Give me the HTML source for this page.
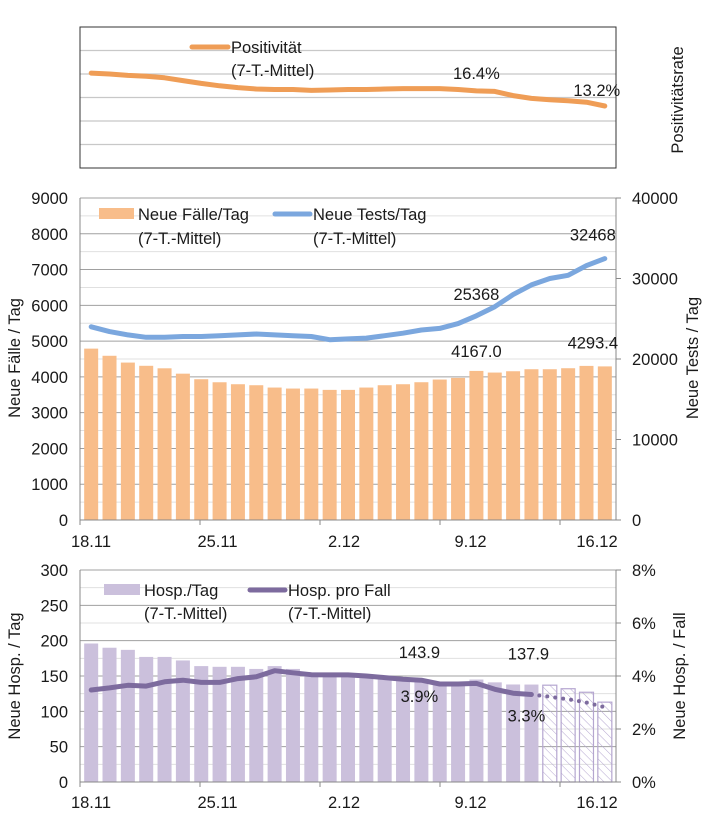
<!DOCTYPE html>
<html><head><meta charset="utf-8">
<style>
body{margin:0;background:#fff;}
svg{display:block;font-family:"Liberation Sans",sans-serif;}
text{fill:#1a1a1a;}
</style></head>
<body>
<svg id="c" width="709" height="833" viewBox="0 0 709 833" xmlns="http://www.w3.org/2000/svg"></svg>
<script>
const dates = ["18.11","25.11","2.12","9.12","16.12"];
const positivity = [20.2,20.0,19.7,19.5,19.2,18.6,18.0,17.5,17.1,16.8,16.7,16.7,16.5,16.6,16.7,16.7,16.8,16.9,16.9,16.9,16.7,16.4,16.3,15.4,14.8,14.5,14.3,14.0,13.2];
const cases = [4790,4590,4400,4310,4240,4090,3935,3850,3795,3767,3702,3674,3674,3637,3637,3702,3767,3795,3851,3926,3972,4167,4121,4158,4214,4214,4242,4307,4293.4];
const tests = [24000,23400,23000,22700,22700,22800,22800,22900,23000,23100,23000,22900,22800,22400,22500,22600,22900,23200,23600,23800,24400,25368,26500,28000,29200,30000,30400,31600,32468];
const hosp = [196,190,187,177,177,172,164,163,163,160,164,160,155,152,152,150,148,146,144,142,141,145,141,138,137.9,137,132,127,113];
const hospPerCase = [3.47,3.55,3.65,3.62,3.78,3.84,3.76,3.76,3.90,3.97,4.20,4.12,4.05,4.04,4.04,4.00,3.94,3.88,3.84,3.70,3.70,3.72,3.50,3.35,3.30,3.22,3.12,3.00,2.82];
const casesTicks = [0,1000,2000,3000,4000,5000,6000,7000,8000,9000];
const testsTicks = [0,10000,20000,30000,40000];
const hospTicks = [0,50,100,150,200,250,300];
const pctTicks = ["0%","2%","4%","6%","8%"];

const svg = document.getElementById('c');
const NS = "http://www.w3.org/2000/svg";
const FS = 16.5;
function el(tag, attrs, txt){
  const e = document.createElementNS(NS, tag);
  for (const k in attrs) e.setAttribute(k, attrs[k]);
  if (txt !== undefined) e.textContent = txt;
  svg.appendChild(e);
  return e;
}
const X0 = 80, X1 = 616, N = 29;
const pitch = (X1 - X0 - 4) / N;
function xc(i){ return X0 + 2 + pitch * (i + 0.5); }
function xl(k){ return 91 + k * 126.5; }

const defs = el('defs', {});
defs.innerHTML = '<pattern id="hatch" width="6" height="6" patternUnits="userSpaceOnUse" patternTransform="rotate(-45)"><line x1="0" y1="0" x2="0" y2="6" stroke="#b5a6d0" stroke-width="1"/></pattern>';

// ===== Top panel =====
const tT = 27, tB = 168;
function yP(v){ return tB - (v / 30) * (tB - tT); }
for (let g = 5; g < 30; g += 5) {
  const l = el('line', {x1:X0, x2:X1, y1:yP(g), y2:yP(g), stroke:'#c8c8c8', 'stroke-width':1.3});
  
  
}
let r = el('rect', {x:X0, y:tT, width:X1-X0, height:tB-tT, fill:'none', stroke:'#333', 'stroke-width':1});


let pp = positivity.map((v,i)=>xc(i).toFixed(1)+','+yP(v).toFixed(1)).join(' ');
let pl = el('polyline', {points:pp, fill:'none', stroke:'#ef9d56', 'stroke-width':5, 'stroke-linejoin':'round', 'stroke-linecap':'round'});


let t;
t = el('text', {x:xc(21), y:yP(positivity[21]) - 12, 'font-size':FS, 'text-anchor':'middle'}, positivity[21].toFixed(1)+'%');


t = el('text', {x:xc(28)-8, y:yP(positivity[28]) - 10, 'font-size':FS, 'text-anchor':'middle'}, positivity[28].toFixed(1)+'%');


let lg = el('line', {x1:192, x2:228, y1:47, y2:47, stroke:'#ef9d56', 'stroke-width':5, 'stroke-linecap':'round'});


t = el('text', {x:231, y:53, 'font-size':FS}, 'Positivität');


t = el('text', {x:231, y:76, 'font-size':FS}, '(7-T.-Mittel)');


t = el('text', {x:683, y:100, 'font-size':FS, 'text-anchor':'middle', transform:'rotate(-90 683 100)'}, 'Positivitätsrate');



// ===== Middle panel =====
const mT = 198, mB = 520;
function yC(v){ return mB - v / 9000 * (mB - mT); }
function yT(v){ return mB - v / 40000 * (mB - mT); }
for (let g = 500; g <= 9000; g += 500) {
  const major = g % 1000 === 0;
  const l = el('line', {x1:X0, x2:X1, y1:yC(g), y2:yC(g), stroke: major ? '#a0a0a0' : '#e0e0e0', 'stroke-width':1});
  
  
}
cases.forEach((v,i)=>{
  const b = el('rect', {x:xc(i)-7, y:yC(v), width:14, height:mB-yC(v), fill:'#f8bd8a'});
  
  
});
let tp = tests.map((v,i)=>xc(i).toFixed(1)+','+yT(v).toFixed(1)).join(' ');
pl = el('polyline', {points:tp, fill:'none', stroke:'#7ba7de', 'stroke-width':5, 'stroke-linejoin':'round', 'stroke-linecap':'round'});


let ax = el('line', {x1:X0, x2:X0, y1:mT, y2:mB, stroke:'#888'});


ax = el('line', {x1:X1, x2:X1, y1:mT, y2:mB, stroke:'#888'});


ax = el('line', {x1:X0, x2:X1, y1:mB, y2:mB, stroke:'#888'});


casesTicks.forEach(v=>{
  const tx = el('text', {x:68, y:yC(v)+6, 'font-size':FS, 'text-anchor':'end'}, String(v));
  
  
});
testsTicks.forEach(v=>{
  const tk = el('line', {x1:X1, x2:X1+5, y1:yT(v), y2:yT(v), stroke:'#888'});
  
  
  const tx = el('text', {x:632, y:yT(v)+6, 'font-size':FS}, String(v));
  
  
});
dates.forEach((d,k)=>{
  const tk = el('line', {x1:X0 + k*120, x2:X0 + k*120, y1:mB, y2:mB+5, stroke:'#888'});
  
  
  const tx = el('text', {x:xl(k), y:547, 'font-size':FS, 'text-anchor':'middle'}, d);
  
  
});
t = el('text', {x:xc(21), y:yC(cases[21])-14, 'font-size':FS, 'text-anchor':'middle'}, cases[21].toFixed(1));


t = el('text', {x:xc(28)-12, y:yC(cases[28])-18, 'font-size':FS, 'text-anchor':'middle'}, cases[28].toFixed(1));


t = el('text', {x:xc(21), y:yT(tests[21])-16, 'font-size':FS, 'text-anchor':'middle'}, String(tests[21]));


t = el('text', {x:xc(28)-12, y:yT(tests[28])-18, 'font-size':FS, 'text-anchor':'middle'}, String(tests[28]));


let sw = el('rect', {x:99, y:208, width:35, height:11, fill:'#f8bd8a'});


t = el('text', {x:138, y:220, 'font-size':FS}, 'Neue Fälle/Tag');


t = el('text', {x:138, y:244, 'font-size':FS}, '(7-T.-Mittel)');


lg = el('line', {x1:275, x2:310, y1:214, y2:214, stroke:'#7ba7de', 'stroke-width':5, 'stroke-linecap':'round'});


t = el('text', {x:313, y:220, 'font-size':FS}, 'Neue Tests/Tag');


t = el('text', {x:313, y:244, 'font-size':FS}, '(7-T.-Mittel)');


t = el('text', {x:20, y:358, 'font-size':FS, 'text-anchor':'middle', transform:'rotate(-90 20 358)'}, 'Neue Fälle / Tag');


t = el('text', {x:698, y:358, 'font-size':FS, 'text-anchor':'middle', transform:'rotate(-90 698 358)'}, 'Neue Tests / Tag');



// ===== Bottom panel =====
const bT = 570, bB = 782;
function yH(v){ return bB - v / 300 * (bB - bT); }
function yR(v){ return bB - v / 8 * (bB - bT); }
for (let g = 25; g <= 300; g += 25) {
  const major = g % 50 === 0;
  const l = el('line', {x1:X0, x2:X1, y1:yH(g), y2:yH(g), stroke: major ? '#a0a0a0' : '#e0e0e0', 'stroke-width':1});
  
  
}
hosp.forEach((v,i)=>{
  const proj = i >= 25;
  const b = el('rect', {x:xc(i)-7, y:yH(v), width:14, height:bB-yH(v), fill: proj ? 'url(#hatch)' : '#cbc0dc', stroke: proj ? '#b5a6d0' : 'none', 'stroke-width':1.2});
  
  
});
let hp = hospPerCase.slice(0,25).map((v,i)=>xc(i).toFixed(1)+','+yR(v).toFixed(1)).join(' ');
pl = el('polyline', {points:hp, fill:'none', stroke:'#7d6b9e', 'stroke-width':5, 'stroke-linejoin':'round', 'stroke-linecap':'round'});


let hd = hospPerCase.slice(24).map((v,k)=>xc(k+24).toFixed(1)+','+yR(v).toFixed(1)).join(' ');
pl = el('polyline', {points:hd, fill:'none', stroke:'#7d6b9e', 'stroke-width':4, 'stroke-dasharray':'0 8', 'stroke-linecap':'round'});


ax = el('line', {x1:X0, x2:X0, y1:bT, y2:bB, stroke:'#888'});


ax = el('line', {x1:X1, x2:X1, y1:bT, y2:bB, stroke:'#888'});


ax = el('line', {x1:X0, x2:X1, y1:bB, y2:bB, stroke:'#888'});


hospTicks.forEach(v=>{
  const tx = el('text', {x:68, y:yH(v)+6, 'font-size':FS, 'text-anchor':'end'}, String(v));
  
  
});
pctTicks.forEach((s,k)=>{
  const v = k*2;
  const tk = el('line', {x1:X1, x2:X1+5, y1:yR(v), y2:yR(v), stroke:'#888'});
  
  
  const tx = el('text', {x:632, y:yR(v)+6, 'font-size':FS}, s);
  
  
});
dates.forEach((d,k)=>{
  const tk = el('line', {x1:X0 + k*120, x2:X0 + k*120, y1:bB, y2:bB+5, stroke:'#888'});
  
  
  const tx = el('text', {x:xl(k), y:808, 'font-size':FS, 'text-anchor':'middle'}, d);
  
  
});
t = el('text', {x:xc(18)-2, y:yH(hosp[18])-22, 'font-size':FS, 'text-anchor':'middle'}, '143.9');


t = el('text', {x:xc(24)-3, y:yH(hosp[24])-25, 'font-size':FS, 'text-anchor':'middle'}, hosp[24].toFixed(1));


t = el('text', {x:xc(18)-2, y:yR(hospPerCase[18])+22, 'font-size':FS, 'text-anchor':'middle'}, '3.9%');


t = el('text', {x:xc(24)-5, y:yR(hospPerCase[24])+27, 'font-size':FS, 'text-anchor':'middle'}, hospPerCase[24].toFixed(1)+'%');


sw = el('rect', {x:104, y:584, width:36, height:11, fill:'#cbc0dc'});


t = el('text', {x:144, y:596, 'font-size':FS}, 'Hosp./Tag');


t = el('text', {x:144, y:619, 'font-size':FS}, '(7-T.-Mittel)');


lg = el('line', {x1:250, x2:285, y1:590, y2:590, stroke:'#7d6b9e', 'stroke-width':5, 'stroke-linecap':'round'});


t = el('text', {x:288, y:596, 'font-size':FS}, 'Hosp. pro Fall');


t = el('text', {x:288, y:619, 'font-size':FS}, '(7-T.-Mittel)');


t = el('text', {x:20, y:676, 'font-size':FS, 'text-anchor':'middle', transform:'rotate(-90 20 676)'}, 'Neue Hosp. / Tag');


t = el('text', {x:685, y:676, 'font-size':FS, 'text-anchor':'middle', transform:'rotate(-90 685 676)'}, 'Neue Hosp. / Fall');


</script>
</body></html>
